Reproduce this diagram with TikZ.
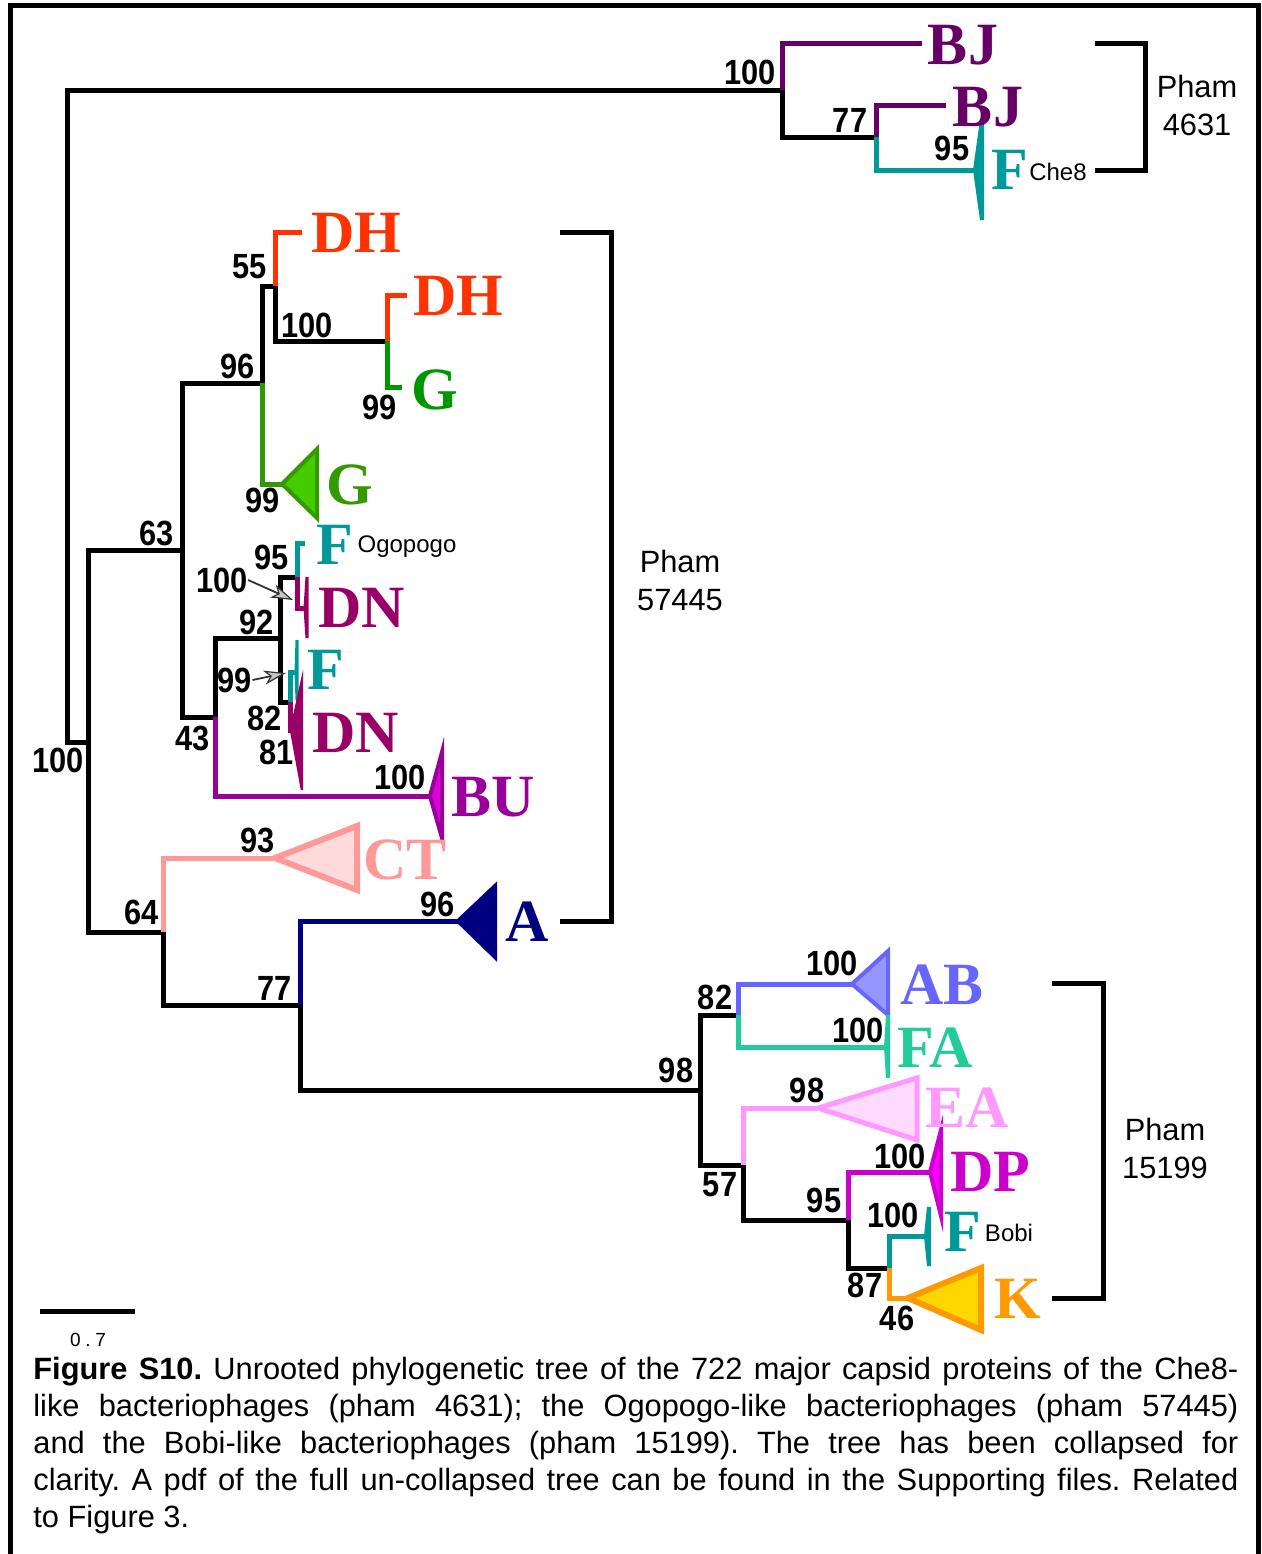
\documentclass[tikz,border=0pt]{standalone}
\usepackage{fontspec}
\setmainfont{Liberation Sans}
\newfontfamily\cladefont{Liberation Serif}
\newfontfamily\bootfont[FakeStretch=0.88]{Liberation Sans}
\usetikzlibrary{arrows.meta,positioning,calc}
\definecolor{cBJ}{RGB}{102,0,102}
\definecolor{cF}{RGB}{0,153,153}
\definecolor{cDH}{RGB}{255,51,0}
\definecolor{cGleaf}{RGB}{0,150,0}
\definecolor{cG}{RGB}{51,153,0}
\definecolor{cGfill}{RGB}{68,204,0}
\definecolor{cDN}{RGB}{153,0,102}
\definecolor{cBU}{RGB}{153,0,153}
\definecolor{cBUfill}{RGB}{221,0,221}
\definecolor{cCT}{RGB}{255,153,153}
\definecolor{cCTfill}{RGB}{255,218,218}
\definecolor{cA}{RGB}{0,0,128}
\definecolor{cAB}{RGB}{102,102,255}
\definecolor{cABfill}{RGB}{150,150,255}
\definecolor{cFA}{RGB}{34,204,153}
\definecolor{cEA}{RGB}{255,153,255}
\definecolor{cEAfill}{RGB}{255,218,255}
\definecolor{cDP}{RGB}{204,0,204}
\definecolor{cDPfill}{RGB}{255,0,255}
\definecolor{cK}{RGB}{255,153,0}
\definecolor{cKfill}{RGB}{255,215,0}
\tikzset{
  branch/.style={line width=2.5pt, line join=miter},
  tri/.style={line width=2pt, line join=miter},
  clade/.style={font=\cladefont\bfseries\fontsize{30}{30}\selectfont, inner sep=0pt},
  boot/.style={font=\bootfont\bfseries\fontsize{17.5}{17.5}\selectfont, inner sep=0pt},
  tag/.style={font=\fontsize{12}{12}\selectfont, inner sep=0pt},
  phamlbl/.style={font=\fontsize{15.4}{19}\selectfont, align=center, inner sep=0pt},
  ptr/.style={-{Stealth[length=11pt,width=7pt,inset=3pt,fill=gray!45,line width=0.6pt]}, line width=0.9pt, black!80},
}

\begin{document}
\begin{tikzpicture}[x=0.5pt, y=-0.5pt]
    \useasboundingbox (0,0) rectangle (1262,1554);
    % frame
    \draw[line width=2.5pt] (10,1554) -- (10,5) -- (1258,5) -- (1258,1554);
    % internal nodes, where the parent branch comes in
    \coordinate (root) at (67,416);
    \coordinate (nA) at (782,90);
    \coordinate (nB) at (876,137);
    \coordinate (nC) at (88,742);
    \coordinate (nD) at (182,550);
    \coordinate (nE) at (163,932);
    \coordinate (nF) at (262,383);
    \coordinate (nG) at (215,717);
    \coordinate (nH) at (275,286);
    \coordinate (nI) at (387,341);
    \coordinate (nJ) at (280,638);
    \coordinate (nK) at (297,577);
    \coordinate (nM) at (290,702);
    \coordinate (nN) at (290,672);
    \coordinate (nP) at (300,1005);
    \coordinate (nQ) at (700,1090);
    \coordinate (nR) at (738,1015);
    \coordinate (nS) at (743,1165);
    \coordinate (nT) at (848,1220);
    \coordinate (nU) at (889,1268);
    % tips (leaf ends and apexes of collapsed clades)
    \coordinate (bjA) at (922,43);
    \coordinate (bjB) at (946,105);
    \coordinate (fChe) at (975,170);
    \coordinate (dhA) at (302,232);
    \coordinate (dhB) at (407,295);
    \coordinate (gA) at (402,387);
    \coordinate (gB) at (282,484);
    \coordinate (fOgo) at (305,543);
    \coordinate (dnA) at (305,608);
    \coordinate (fLow) at (296,672);
    \coordinate (dnB) at (291,730);
    \coordinate (bu) at (430,796);
    \coordinate (ct) at (275,858);
    \coordinate (a) at (458,921);
    \coordinate (ab) at (852,984);
    \coordinate (fa) at (886,1047);
    \coordinate (ea) at (818,1108);
    \coordinate (dp) at (930,1172);
    \coordinate (fBobi) at (926,1236);
    \coordinate (k) at (908,1298);
    % branches
    \draw[branch] (root) |- (nA);
    \draw[branch] (root) |- (nC);
    \draw[branch, cBJ] (nA) |- (bjA);
    \draw[branch] (nA) |- (nB);
    \draw[branch, cBJ] (nB) |- (bjB);
    \draw[branch, cF] (nB) |- (fChe);
    \draw[branch] (nC) |- (nD);
    \draw[branch] (nC) |- (nE);
    \draw[branch] (nD) |- (nF);
    \draw[branch] (nD) |- (nG);
    \draw[branch] (nF) |- (nH);
    \draw[branch, cG] (nF) |- (gB);
    \draw[branch, cDH] (nH) |- (dhA);
    \draw[branch] (nH) |- (nI);
    \draw[branch, cDH] (nI) |- (dhB);
    \draw[branch, cGleaf] (nI) |- (gA);
    \draw[branch] (nG) |- (nJ);
    \draw[branch, cBU] (nG) |- (bu);
    \draw[branch] (nJ) |- (nK);
    \draw[branch] (nJ) |- (nM);
    \draw[branch, cF] (nK) |- (fOgo);
    \draw[branch, cDN] (nK) |- (dnA);
    \draw[branch, cF] (nM) |- (nN) -- (fLow);
    \draw[branch, cDN] (nM) |- (dnB);
    \draw[branch, cCT] (nE) |- (ct);
    \draw[branch] (nE) |- (nP);
    \draw[branch, cA] (nP) |- (a);
    \draw[branch] (nP) |- (nQ);
    \draw[branch] (nQ) |- (nR);
    \draw[branch] (nQ) |- (nS);
    \draw[branch, cAB] (nR) |- (ab);
    \draw[branch, cFA] (nR) |- (fa);
    \draw[branch, cEA] (nS) |- (ea);
    \draw[branch] (nS) |- (nT);
    \draw[branch, cDP] (nT) |- (dp);
    \draw[branch] (nT) |- (nU);
    \draw[branch, cF] (nU) |- (fBobi);
    \draw[branch, cK] (nU) |- (k);
    % collapsed clades
    \filldraw[tri, draw=cF, fill=cF] (fChe) -- ++(7,-50) -- ++(0,100) -- cycle;
    \filldraw[tri, draw=cG, fill=cGfill] (gB) -- ++(35,-35) -- ++(0,69) -- cycle;
    \filldraw[tri, draw=cDN, fill=cDN, line width=1.5pt] (dnA) -- ++(2,-31) -- ++(0,61) -- cycle;
    \filldraw[tri, draw=cF, fill=cF, line width=1.5pt] (fLow) -- ++(1,-32) -- ++(0,60) -- cycle;
    \filldraw[tri, draw=cDN, fill=cDN, line width=1.2pt] (dnB) -- ++(11,-50) -- ++(0,110) -- cycle;
    \filldraw[tri, draw=cBU, fill=cBUfill] (bu) -- ++(12,-44) -- ++(0,86) -- cycle;
    \filldraw[tri, draw=cCT, fill=cCTfill, line width=3pt] (ct) -- ++(82,-32) -- ++(0,64) -- cycle;
    \filldraw[tri, draw=cA, fill=cA] (a) -- ++(37,-35) -- ++(0,71) -- cycle;
    \filldraw[tri, draw=cAB, fill=cABfill] (ab) -- ++(36,-33) -- ++(0,64) -- cycle;
    \filldraw[tri, draw=cFA, fill=cFA] (fa) -- ++(2,-32) -- ++(0,63) -- cycle;
    \filldraw[tri, draw=cEA, fill=cEAfill, line width=2.5pt] (ea) -- ++(99,-30) -- ++(0,62) -- cycle;
    \filldraw[tri, draw=cDP, fill=cDPfill] (dp) -- ++(11,-42) -- ++(0,86) -- cycle;
    \filldraw[tri, draw=cF, fill=cF] (fBobi) -- ++(3,-29) -- ++(0,59) -- cycle;
    \filldraw[tri, draw=cK, fill=cKfill, line width=3pt] (k) -- ++(73,-30) -- ++(0,62) -- cycle;
    % clade names
    \node[clade, cBJ] (lBJa) at (963,45) {BJ};
    \node[clade, cBJ] (lBJb) at (988,107) {BJ};
    \node[clade, cF] (lFche) at (1010,170) {F};
    \node[tag] (tChe) at (1058,172) {Che8};
    \node[clade, cDH] (lDHa) at (356,233) {DH};
    \node[clade, cDH] (lDHb) at (458,296) {DH};
    \node[clade, cGleaf] (lGa) at (435,390) {G};
    \node[clade, cG] (lGb) at (350,485) {G};
    \node[clade, cF] (lFogo) at (335,545) {F};
    \node[tag] (tOgo) at (407,547) {Ogopogo};
    \node[clade, cDN] (lDNa) at (362,608) {DN};
    \node[clade, cF] (lFlow) at (326,670) {F};
    \node[clade, cDN] (lDNb) at (356,733) {DN};
    \node[clade, cBU] (lBU) at (493,797) {BU};
    \node[clade, cCT] (lCT) at (405,860) {CT};
    \node[clade, cA] (lA) at (527,922) {A};
    \node[clade, cAB] (lAB) at (942,985) {AB};
    \node[clade, cFA] (lFA) at (935,1048) {FA};
    \node[clade, cEA] (lEA) at (967,1108) {EA};
    \node[clade, cDP] (lDP) at (990,1172) {DP};
    \node[clade, cF] (lFbobi) at (963,1232) {F};
    \node[tag] (tBobi) at (1009,1233) {Bobi};
    \node[clade, cK] (lK) at (1018,1299) {K};
    % bootstrap values
    \foreach \v/\x/\y [count=\n] in {100/750/72, 77/850/120, 95/952/148,
        55/250/267, 100/307/325, 96/238/366, 99/380/407, 99/263/500,
        63/157/533, 95/272/557, 100/222/580, 92/257/622, 99/235/680,
        82/265/718, 43/193/738, 81/277/752, 100/58/760, 100/400/777,
        93/258/840, 64/142/912, 96/438/904, 77/275/988,
        100/832/963, 82/715/997, 100/858/1030, 98/676/1070, 98/807/1090,
        100/900/1156, 57/720/1185, 95/824/1200, 100/893/1215, 87/865/1285, 46/897/1318}
      \node[boot] (bs\n) at (\x,\y) {\v};
    % pointers to the small nodes
    \draw[ptr] (bs11.east) -- (293,600);
    \draw[ptr] (bs13.east) -- (286,673);
    % pham brackets
    \draw[branch] (1095,43) -- (1145,43) -- (1145,170) -- (1095,170);
    \node[phamlbl] (p4631) at (1197,105) {Pham\\4631};
    \draw[branch] (560,232) -- (611,232) -- (611,921) -- (560,921);
    \node[phamlbl] (p57445) at (680,580) {Pham\\57445};
    \draw[branch] (1052,983) -- (1103,983) -- (1103,1298) -- (1052,1298);
    \node[phamlbl] (p15199) at (1165,1148) {Pham\\15199};
    % scale bar
    \draw[line width=2.5pt] (40,1311) -- (135,1311);
    \node[font=\fontsize{9.5}{10}\selectfont\addfontfeature{LetterSpace=25}, inner sep=0pt] (sc) at (88,1340) {0.7};
    % caption
    \node[anchor=north west, inner sep=0pt, text width=602.5pt, align=justify,
          font=\fontsize{15.4}{18.5}\selectfont\frenchspacing] (cap) at (33,1357)
      {\textbf{Figure S10.} Unrooted phylogenetic tree of the 722 major capsid proteins of the Che8-\linebreak
       like bacteriophages (pham 4631); the Ogopogo-like bacteriophages (pham 57445)\linebreak
       and the Bobi-like bacteriophages (pham 15199). The tree has been collapsed for\linebreak
       clarity. A pdf of the full un-collapsed tree can be found in the Supporting files. Related\linebreak
       to Figure 3.};
  \end{tikzpicture}
\end{document}
